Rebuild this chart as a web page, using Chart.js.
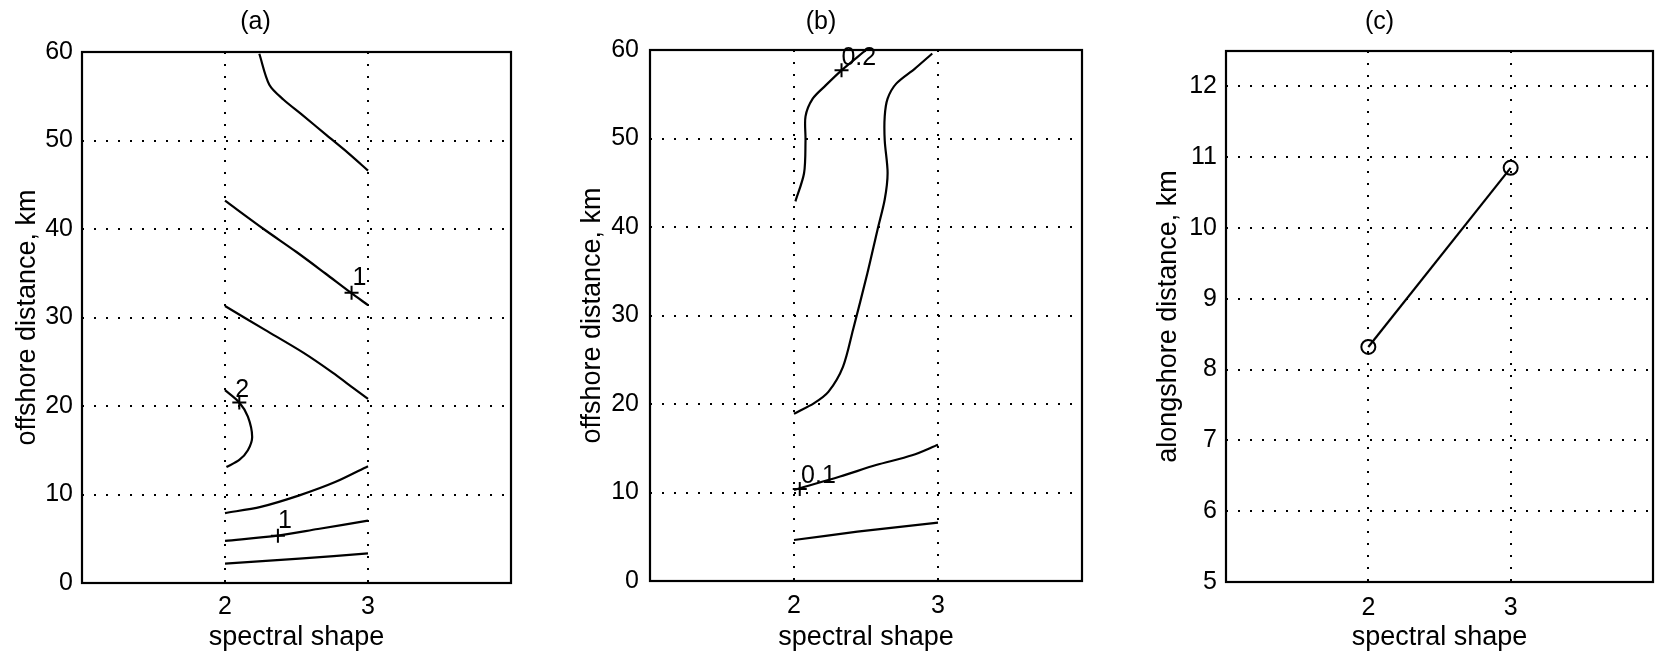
<!DOCTYPE html>
<html>
<head>
<meta charset="utf-8">
<script src="https://cdn.jsdelivr.net/npm/chart.js@4.4.0/dist/chart.umd.min.js"></script>
<style>
  body { margin: 0; background: #fff; width: 1662px; height: 658px; position: relative; overflow: hidden; }
  canvas { position: absolute; top: 0; }
</style>
</head>
<body>
<canvas id="panelA" width="540" height="658" style="left:0px"></canvas>
<canvas id="panelB" width="540" height="658" style="left:560px"></canvas>
<canvas id="panelC" width="562" height="658" style="left:1100px"></canvas>
<script>
// tick labels
const shapeTicks = [2, 3];
const offshoreTicks = [0, 10, 20, 30, 40, 50, 60];
const alongshoreTicks = [5, 6, 7, 8, 9, 10, 11, 12];

// (a) contour lines, [spectral shape, offshore distance km]
const a1 = [[2.24, 59.8], [2.31, 56.3], [2.41, 54.6], [2.54, 52.9], [2.71, 50.6], [2.86, 48.6], [3.0, 46.6]];
const a2 = [[2.0, 43.2], [2.27, 40.0], [2.5, 37.4], [2.7, 35.0], [2.88, 32.8], [3.0, 31.4]];
const a3 = [[2.0, 31.3], [2.28, 28.6], [2.55, 26.0], [2.75, 23.8], [2.9, 22.0], [3.0, 20.8]];
const a4 = [[2.0, 21.8], [2.1, 20.4], [2.16, 18.8], [2.19, 16.5], [2.16, 15.0], [2.1, 13.9], [2.01, 13.1]];
const a5 = [[2.0, 7.9], [2.25, 8.6], [2.52, 9.9], [2.77, 11.4], [3.0, 13.2]];
const a6 = [[2.0, 4.75], [2.37, 5.35], [2.65, 6.1], [3.0, 7.04]];
const a7 = [[2.0, 2.2], [2.52, 2.75], [3.0, 3.35]];
const aMarks = [[2.885, 32.8], [2.1, 20.4], [2.37, 5.35]];
const aLabels = [["1", 2.94, 34.4], ["2", 2.12, 21.8], ["1", 2.42, 7.0]];

// (b) contour lines
const b1 = [[2.01, 42.9], [2.07, 46.1], [2.08, 49.8], [2.08, 52.5], [2.13, 54.5], [2.22, 56.0], [2.33, 57.7], [2.5, 60.0]];
const b2 = [[2.96, 59.6], [2.84, 57.9], [2.71, 56.2], [2.65, 54.5], [2.63, 52.5], [2.63, 49.8], [2.65, 46.1], [2.63, 43.1],
            [2.58, 39.7], [2.51, 34.8], [2.41, 28.4], [2.34, 24.2], [2.24, 21.4], [2.14, 20.1], [2.0, 18.9]];
const b3 = [[2.0, 10.3], [2.32, 11.8], [2.57, 13.1], [2.82, 14.2], [3.0, 15.4]];
const b4 = [[2.0, 4.63], [2.44, 5.57], [3.0, 6.6]];
const bMarks = [[2.33, 57.7], [2.04, 10.4]];
const bLabels = [["0.2", 2.45, 59.1], ["0.1", 2.17, 11.8]];

// (c) alongshore distance
const cShape = [2, 3];
const cAlong = [8.32, 10.85];

const FONT = "'Liberation Sans', Arial, Helvetica, sans-serif";

// frame + text labels on top of the data
const framePlugin = {
  id: 'frame',
  afterDatasetsDraw(chart, args, opts) {
    const ctx = chart.ctx;
    const {x, y} = chart.scales;
    const area = chart.chartArea;
    ctx.save();
    ctx.fillStyle = '#000';
    ctx.font = '25px ' + FONT;
    ctx.textAlign = 'center';
    ctx.textBaseline = 'middle';
    (opts.labels || []).forEach(l => {
      ctx.fillText(l[0], x.getPixelForValue(l[1]), y.getPixelForValue(l[2]));
    });
    ctx.strokeStyle = '#000';
    ctx.lineWidth = 2.2;
    ctx.strokeRect(area.left, area.top, area.right - area.left, area.bottom - area.top);
    ctx.restore();
  }
};

const toXY = pts => pts.map(p => ({x: p[0], y: p[1]}));

function lineSet(pts) {
  return {data: toXY(pts), showLine: true, borderColor: '#000', borderWidth: 2.2,
          pointRadius: 0, tension: 0.3, fill: false};
}
function markSet(pts) {
  return {data: toXY(pts), showLine: false, pointStyle: 'cross', pointRadius: 7,
          borderColor: '#000', borderWidth: 2};
}

function makePanel(id, p) {
  new Chart(document.getElementById(id), {
    type: 'scatter',
    data: {datasets: p.datasets},
    options: {
      responsive: false,
      animation: false,
      layout: {padding: {left: 0, right: p.padRight, top: 0, bottom: 0}},
      plugins: {
        legend: {display: false},
        tooltip: {enabled: false},
        title: {display: true, text: p.title, color: '#000',
                font: {family: FONT, size: 25, weight: 'normal'},
                padding: {top: 7, bottom: p.titleGap}},
        frame: {labels: p.labels}
      },
      scales: {
        x: {
          type: 'linear', min: 1, max: 4,
          afterBuildTicks: s => { s.ticks = shapeTicks.map(v => ({value: v})); },
          afterFit: s => { s.height = p.xHeight; },
          grid: {color: '#000', lineWidth: 2, drawTicks: false},
          border: {display: false, dash: [2, 10]},
          ticks: {color: '#000', padding: p.xTickPad, font: {family: FONT, size: 25}},
          title: {display: true, text: 'spectral shape', color: '#000',
                  font: {family: FONT, size: 27}, padding: {top: 0, bottom: 4}}
        },
        y: {
          type: 'linear', min: p.yMin, max: p.yMax,
          afterBuildTicks: s => { s.ticks = p.yTicks.map(v => ({value: v})); },
          afterFit: s => { s.width = p.yWidth; },
          grid: {color: '#000', lineWidth: 2, drawTicks: false},
          border: {display: false, dash: [2, 10]},
          ticks: {color: '#000', padding: p.yTickPad, font: {family: FONT, size: 25}},
          title: {display: true, text: p.yTitle, color: '#000',
                  font: {family: FONT, size: 27}, padding: {top: p.yTitlePad, bottom: 0}}
        }
      }
    },
    plugins: [framePlugin]
  });
}

makePanel('panelA', {
  title: '(a)', yTitle: 'offshore distance, km', yMin: 0, yMax: 60, yTicks: offshoreTicks,
  datasets: [a1, a2, a3, a4, a5, a6, a7].map(lineSet).concat([markSet(aMarks)]),
  labels: aLabels,
  padRight: 29, titleGap: 15, xHeight: 75, yWidth: 82, xTickPad: 9, yTickPad: 9, yTitlePad: 11
});

makePanel('panelB', {
  title: '(b)', yTitle: 'offshore distance, km', yMin: 0, yMax: 60, yTicks: offshoreTicks,
  datasets: [b1, b2, b3, b4].map(lineSet).concat([markSet(bMarks)]),
  labels: bLabels,
  padRight: 18, titleGap: 13, xHeight: 77, yWidth: 90, xTickPad: 10, yTickPad: 11, yTitlePad: 16
});

makePanel('panelC', {
  title: '(c)', yTitle: 'alongshore distance, km', yMin: 5, yMax: 12.5, yTicks: alongshoreTicks,
  datasets: [{
    data: cShape.map((v, i) => ({x: v, y: cAlong[i]})),
    showLine: true, borderColor: '#000', borderWidth: 2.2,
    pointStyle: 'circle', pointRadius: 7, pointBorderWidth: 2,
    pointBackgroundColor: 'rgba(0,0,0,0)', pointBorderColor: '#000'
  }],
  labels: [],
  padRight: 3, titleGap: 14, xHeight: 76, yWidth: 126, xTickPad: 11, yTickPad: 9, yTitlePad: 52
});
</script>
</body>
</html>
